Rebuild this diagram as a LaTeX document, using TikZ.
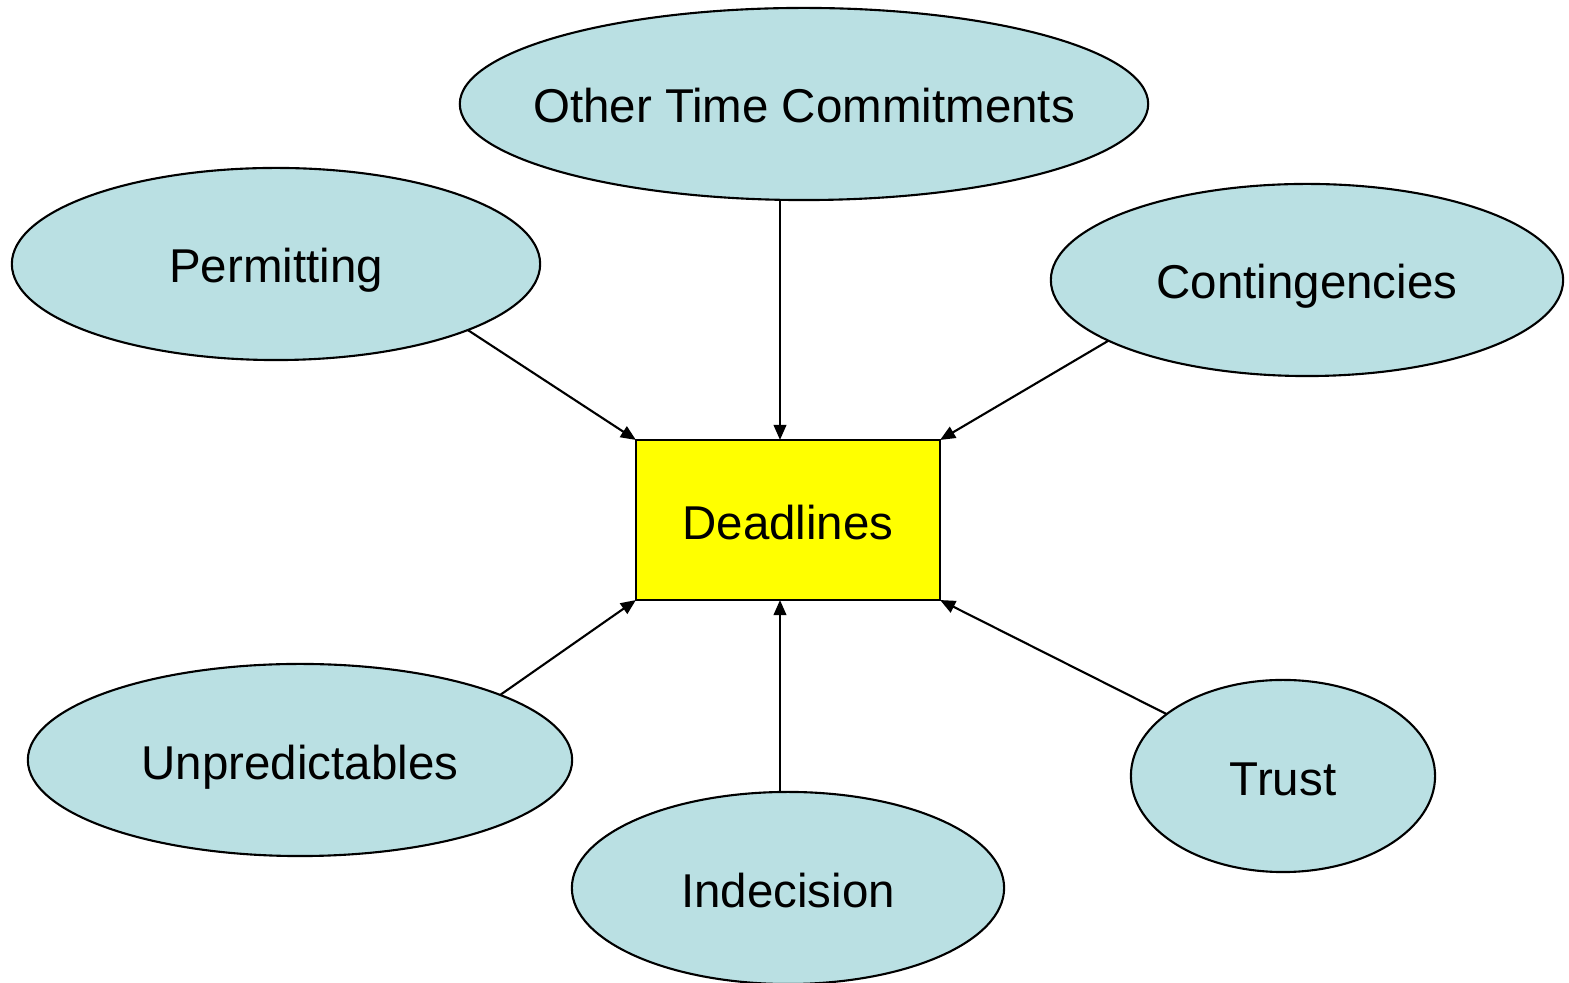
\documentclass[tikz,border=0pt]{standalone}
\usepackage{fontspec}
\setmainfont{Liberation Sans}
\usetikzlibrary{shapes.geometric,arrows.meta}
\definecolor{bubbleFill}{RGB}{186,224,227}
\definecolor{boxFill}{RGB}{255,255,0}

\begin{document}
\begin{tikzpicture}
[x=0.01cm,y=-0.01cm,
  ellipseDecorate/.style={shape=ellipse,draw,fill=bubbleFill,line width=0.6pt,inner xsep=-0.4cm,inner ysep=0pt,outer sep=0pt,minimum height=1.92cm,text height=0.38cm,text depth=0cm},%
  boxDecorate/.style={shape=rectangle,draw,fill=boxFill,line width=0.6pt,inner sep=0pt,outer sep=0pt,minimum width=3.04cm,minimum height=1.6cm,text height=0.38cm,text depth=0cm},%
  lineDecorate/.style={-{Triangle[length=4.3pt,width=3.6pt]},line width=0.6pt}]
\useasboundingbox (0,0) rectangle (1569,983);
\fontsize{13.5}{16}\selectfont
%% central box
\node (dead) at (788,520) [boxDecorate] {Deadlines};
%% ellipses
\foreach \nodename/\x/\y/\w/\txt in {other/804/104/6.88/Other Time Commitments,
    perm/276/264/5.28/Permitting, cont/1307/280/5.12/Contingencies,
    unpr/300/760/5.44/Unpredictables, ind/788/888/4.32/Indecision,
    trust/1283/776/3.04/Trust} {
  \node (\nodename) at (\x,\y) [ellipseDecorate,minimum width=\w cm] {\txt};
}
\coordinate (top) at ([xshift=-0.08cm]dead.north);
\coordinate (bot) at ([xshift=-0.08cm]dead.south);
%% arrows
\draw[lineDecorate] (perm.-19) -- (dead.north west);
\draw[lineDecorate] (top |- other.south) -- (top);
\draw[lineDecorate] (cont.197) -- (dead.north east);
\draw[lineDecorate] (unpr.18) -- (dead.south west);
\draw[lineDecorate] (bot |- ind.north) -- (bot);
\draw[lineDecorate] (trust.152) -- (dead.south east);
\end{tikzpicture}
\end{document}
